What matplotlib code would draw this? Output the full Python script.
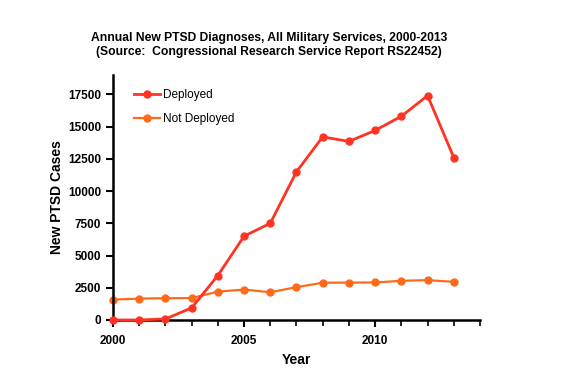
import matplotlib
matplotlib.use("Agg")
import matplotlib.pyplot as plt
from matplotlib.ticker import MultipleLocator

plt.rcParams['font.family'] = ['Liberation Sans', 'DejaVu Sans']

years = list(range(2000, 2014))
deployed = [0, 0, 80, 940, 3450, 6500, 7500, 11500, 14200, 13850, 14700, 15800, 17400, 12600]
not_deployed = [1580, 1660, 1690, 1700, 2200, 2360, 2150, 2550, 2890, 2900, 2910, 3040, 3090, 2960]

red = '#ff3324'
orange = '#ff6a1a'

fig = plt.figure(figsize=(5.7, 3.91), dpi=100)
ax = fig.add_axes([113/570, 1 - 320/391, (480 - 113)/570, (320 - 75)/391])

ax.plot(years, deployed, color=red, marker='o', markersize=5, lw=2, label='Deployed', clip_on=False, zorder=3)
ax.plot(years, not_deployed, color=orange, marker='o', markersize=5, lw=1.6, label='Not Deployed', clip_on=False, zorder=2)

ax.set_xlim(2000, 2014)
ax.set_ylim(0, 19000)
ax.xaxis.set_major_locator(MultipleLocator(5))
ax.xaxis.set_minor_locator(MultipleLocator(1))
ax.set_yticks([0, 2500, 5000, 7500, 10000, 12500, 15000, 17500])

for s in ['top', 'right']:
    ax.spines[s].set_visible(False)
for s in ['left', 'bottom']:
    ax.spines[s].set_linewidth(1.8)

ax.tick_params(axis='both', which='major', width=1.5, length=5, labelsize=8.5, direction='out')
ax.tick_params(axis='x', which='minor', width=1.2, length=4, direction='out')
ax.tick_params(axis='x', pad=6)
for lab in ax.get_xticklabels() + ax.get_yticklabels():
    lab.set_fontweight('bold')

ax.set_xlabel('Year', fontsize=10, fontweight='bold', labelpad=4)
ax.set_ylabel('New PTSD Cases', fontsize=10, fontweight='bold', labelpad=3)

fig.text(269/570, 1 - 45/391,
         'Annual New PTSD Diagnoses, All Military Services, 2000-2013\n'
         '(Source:  Congressional Research Service Report RS22452)',
         ha='center', va='center', fontsize=8.7, fontweight='bold', linespacing=1.2)

ax.legend(loc='upper left', bbox_to_anchor=(0.028, 0.985), frameon=False, fontsize=8.5,
          handlelength=2.2, labelspacing=1.0, handletextpad=0.3)

fig.savefig('out.png', dpi=100)
